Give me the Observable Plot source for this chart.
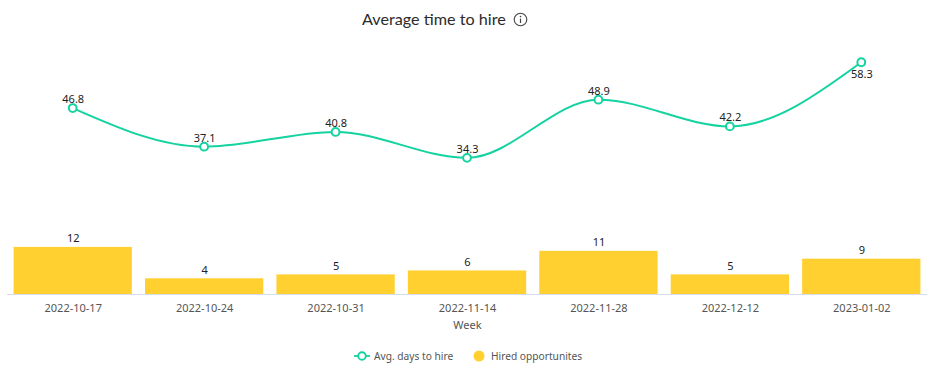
<!DOCTYPE html>
<html>
<head>
<meta charset="utf-8">
<script src="https://cdn.jsdelivr.net/npm/d3@7"></script>
<script src="https://cdn.jsdelivr.net/npm/@observablehq/plot@0.6"></script>
<style>
html,body{margin:0;padding:0;background:#fff;width:949px;height:379px;overflow:hidden;font-family:"Noto Sans",sans-serif}
#title{height:45px;position:relative;font-family:Lato,sans-serif;font-size:16.2px;line-height:22px;color:#2b2b2b}
#title span{position:absolute;left:362px;top:8px;white-space:nowrap}
#title svg{position:absolute;left:512.5px;top:12px}
#chart svg{display:block}
#legend{height:44px;position:relative;font-size:10.2px;color:#555}
#legend svg,#legend span{position:absolute}
#legend span{top:14px;line-height:14px;white-space:nowrap}
</style>
</head>
<body>
<div id="title"><span>Average time to hire</span>
<svg width="15" height="15" viewBox="0 0 15 15"><circle cx="7.5" cy="7.5" r="6.3" fill="none" stroke="#444" stroke-width="1.1"/><circle cx="7.5" cy="4.6" r="0.8" fill="#444"/><path d="M7.5 6.6V11" stroke="#444" stroke-width="1.2"/></svg>
</div>
<div id="chart"></div>
<div id="legend">
<svg style="left:354px;top:16px" width="16" height="10" viewBox="0 0 16 10"><path d="M0 5H16" stroke="#14d3a0" stroke-width="1.8"/><circle cx="8" cy="5" r="3.8" fill="#fff" stroke="#14d3a0" stroke-width="1.9"/></svg>
<span style="left:374px">Avg. days to hire</span>
<svg style="left:473px;top:15px" width="12" height="12" viewBox="0 0 12 12"><circle cx="6" cy="6" r="5.5" fill="#ffd02f"/></svg>
<span style="left:491px">Hired opportunites</span>
</div>
<script>
const weeks = ["2022-10-17","2022-10-24","2022-10-31","2022-11-14","2022-11-28","2022-12-12","2023-01-02"];
const avgDays = [46.8,37.1,40.8,34.3,48.9,42.2,58.3];
const hired = [12,4,5,6,11,5,9];
const barUnit = 0.985; // second axis of the original, relative to the days axis

const line = weeks.map((w,i)=>({w,v:avgDays[i]}));
const bars = weeks.map((w,i)=>({w,v:hired[i],h:hired[i]*barUnit}));
const lastWeek = weeks[weeks.length-1];
const font = {fontSize:11,fill:"#222"};

document.getElementById("chart").append(Plot.plot({
  width:949,height:290,
  marginLeft:7,marginRight:22,marginTop:0,marginBottom:41,
  style:{fontFamily:'"Noto Sans",sans-serif',background:"transparent",overflow:"visible"},
  x:{type:"band",domain:weeks,round:false,paddingInner:0.1,paddingOuter:0.05},
  y:{domain:[0,62.5],axis:null},
  marks:[
    Plot.barY(bars,{x:"w",y:"h",fill:"#ffd02f"}),
    Plot.ruleY([0],{stroke:"#d5dcee",strokeWidth:1}),
    Plot.line(line,{x:"w",y:"v",curve:"monotone-x",stroke:"#14d3a0",strokeWidth:2,dx:-0.5}),
    Plot.dot(line,{x:"w",y:"v",r:3.9,fill:"#fff",stroke:"#14d3a0",strokeWidth:2,dx:-0.5}),
    Plot.text(line.filter(d=>d.w!==lastWeek),{x:"w",y:"v",text:d=>d.v.toFixed(1),dy:-8.5,...font}),
    Plot.text(line.filter(d=>d.w===lastWeek),{x:"w",y:"v",text:d=>d.v.toFixed(1),dy:12,...font}),
    Plot.text(bars,{x:"w",y:"h",text:"v",dy:-8.5,...font}),
    Plot.axisX({tickSize:0,tickPadding:10,fontSize:11,color:"#555",label:"Week",labelAnchor:"center",labelArrow:"none",labelOffset:34})
  ]
}));
</script>
</body>
</html>
